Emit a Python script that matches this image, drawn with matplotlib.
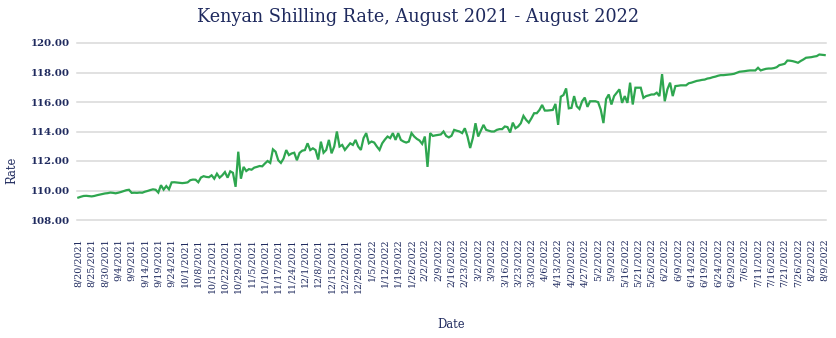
import matplotlib
matplotlib.use("Agg")
import matplotlib.pyplot as plt

# Tick labels, one every fifth trading observation
tick_labels = [
    "8/20/2021", "8/25/2021", "8/30/2021", "9/4/2021", "9/9/2021", "9/14/2021",
    "9/19/2021", "9/24/2021", "10/1/2021", "10/8/2021", "10/15/2021", "10/22/2021",
    "10/29/2021", "11/5/2021", "11/10/2021", "11/17/2021", "11/24/2021", "12/1/2021",
    "12/8/2021", "12/15/2021", "12/22/2021", "12/29/2021", "1/5/2022", "1/12/2022",
    "1/19/2022", "1/26/2022", "2/2/2022", "2/9/2022", "2/16/2022", "2/23/2022",
    "3/2/2022", "3/9/2022", "3/16/2022", "3/23/2022", "3/30/2022", "4/6/2022",
    "4/13/2022", "4/20/2022", "4/27/2022", "5/2/2022", "5/9/2022", "5/16/2022",
    "5/21/2022", "5/26/2022", "6/2/2022", "6/9/2022", "6/14/2022", "6/19/2022",
    "6/24/2022", "6/29/2022", "7/6/2022", "7/11/2022", "7/16/2022", "7/21/2022",
    "7/26/2022", "8/2/2022", "8/9/2022",
]
label_step = 5

# KES per USD
rate = [
    109.52, 109.58, 109.63, 109.64, 109.62, 109.60, 109.63, 109.68, 109.72, 109.76,
    109.80, 109.82, 109.86, 109.84, 109.81, 109.85, 109.90, 109.96, 110.02, 110.05,
    109.84, 109.85, 109.84, 109.86, 109.85, 109.92, 109.97, 110.03, 110.08, 110.05,
    109.86, 110.36, 110.06, 110.30, 110.08, 110.55, 110.56, 110.54, 110.52, 110.50,
    110.52, 110.55, 110.70, 110.74, 110.73, 110.56, 110.88, 110.97, 110.92, 110.90,
    111.03, 110.80, 111.14, 110.87, 111.03, 111.25, 110.87, 111.30, 111.20, 110.25,
    112.63, 110.80, 111.60, 111.32, 111.45, 111.41, 111.55, 111.60, 111.66, 111.64,
    111.83, 112.00, 111.87, 112.79, 112.63, 112.05, 111.87, 112.17, 112.74, 112.40,
    112.51, 112.56, 112.05, 112.55, 112.70, 112.74, 113.20, 112.74, 112.86, 112.74,
    112.10, 113.31, 112.56, 112.75, 113.43, 112.52, 112.98, 114.00, 112.98, 113.09,
    112.75, 112.98, 113.20, 113.09, 113.43, 112.98, 112.75, 113.55, 113.89, 113.20,
    113.32, 113.25, 112.98, 112.75, 113.20, 113.45, 113.66, 113.55, 113.89, 113.43,
    113.89, 113.43, 113.32, 113.25, 113.32, 113.89, 113.66, 113.50, 113.39, 113.16,
    113.66, 111.60, 113.89, 113.70, 113.74, 113.77, 113.80, 114.00, 113.70, 113.60,
    113.71, 114.11, 114.05, 114.00, 113.89, 114.22, 113.66, 112.88, 113.55, 114.56,
    113.66, 114.05, 114.45, 114.11, 114.05, 114.00, 114.00, 114.11, 114.16, 114.16,
    114.34, 114.30, 113.93, 114.60, 114.22, 114.34, 114.56, 115.06, 114.79, 114.60,
    114.90, 115.24, 115.24, 115.46, 115.80, 115.42, 115.42, 115.44, 115.46, 115.87,
    114.45, 116.36, 116.47, 116.92, 115.57, 115.60, 116.40, 115.71, 115.53, 116.05,
    116.30, 115.67, 116.05, 116.05, 116.05, 115.99, 115.48, 114.57, 116.20, 116.51,
    115.83, 116.40, 116.63, 116.86, 115.94, 116.40, 115.94, 117.31, 115.83, 116.97,
    116.97, 116.97, 116.28, 116.40, 116.45, 116.51, 116.51, 116.63, 116.40, 117.89,
    116.05, 116.86, 117.31, 116.40, 117.08, 117.10, 117.13, 117.13, 117.13, 117.27,
    117.31, 117.37, 117.43, 117.46, 117.50, 117.52, 117.59, 117.62, 117.68, 117.72,
    117.78, 117.82, 117.82, 117.84, 117.86, 117.88, 117.91, 117.98, 118.05, 118.07,
    118.09, 118.12, 118.14, 118.14, 118.14, 118.32, 118.14, 118.20, 118.25, 118.27,
    118.27, 118.30, 118.36, 118.50, 118.54, 118.59, 118.81, 118.80, 118.77, 118.72,
    118.66, 118.78, 118.88, 119.00, 119.02, 119.04, 119.08, 119.11, 119.22, 119.20,
    119.18,
]

y_ticks = [108, 110, 112, 114, 116, 118, 120]

NAVY = "#1f2a5e"
GREEN = "#2ea64f"
GRID = "#d9d9d9"
SERIF = "DejaVu Serif"

fig = plt.figure(figsize=(8.37, 3.38), dpi=100)
ax = fig.add_axes([77 / 837, 1 - 220 / 338, 749 / 837, 177 / 338])

x = list(range(len(rate)))
ax.plot(x, rate, color=GREEN, lw=1.6, solid_joinstyle="miter", zorder=3)

ax.set_ylim(108, 120)
ax.set_xlim(-0.5, len(rate) - 0.5)
ax.set_yticks(y_ticks)
ax.set_yticklabels([f"{v:.2f}" for v in y_ticks], fontfamily=SERIF,
                   fontsize=7.4, fontweight="bold", color=NAVY)
ax.set_xticks(list(range(0, len(rate), label_step)))
ax.set_xticklabels(tick_labels, rotation=90, fontfamily=SERIF, fontsize=6.8,
                   color=NAVY, va="top", ha="center")
ax.tick_params(axis="both", length=0)
ax.tick_params(axis="x", pad=13)
ax.tick_params(axis="y", pad=5)

# horizontal gridlines, kept unclipped so the edge lines show in full
for v in y_ticks:
    ax.axhline(v, color=GRID, lw=1.1, zorder=1, clip_on=False)
for s in ax.spines.values():
    s.set_visible(False)

fig.text(0.5, 1 - 17 / 338, "Kenyan Shilling Rate, August 2021 - August 2022",
         ha="center", va="center", fontfamily=SERIF, fontsize=12.7, color=NAVY)
fig.text(12 / 837, 1 - 170 / 338, "Rate", rotation=90, ha="center", va="center",
         fontfamily=SERIF, fontsize=8.3, color=NAVY)
fig.text(451 / 837, 1 - 325 / 338, "Date", ha="center", va="center",
         fontfamily=SERIF, fontsize=8.3, color=NAVY)

fig.savefig("out.png", dpi=100, facecolor="white")
